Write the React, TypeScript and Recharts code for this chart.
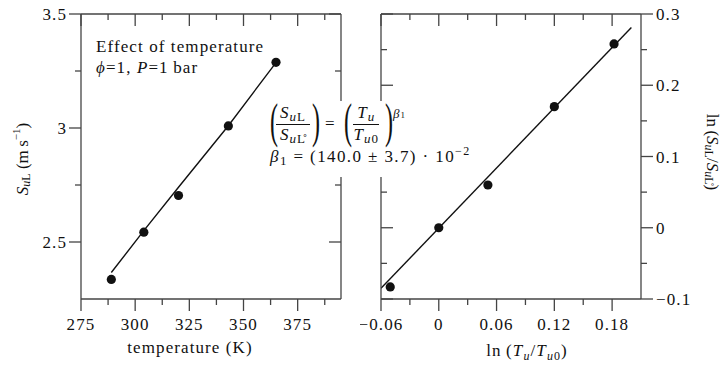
import React from 'react';
import { ComposedChart, Line, Scatter, XAxis, YAxis, Label } from 'recharts';

const SERIF = '"Liberation Serif", serif';
const INK = '#111';
const FRAME = '#444';
const FONT = 17;
const SPACING = 1.1;

// left panel: flame speed against unburnt temperature
const temperatureK = [289, 304, 320, 343, 365];
const flameSpeed = [2.336, 2.543, 2.704, 3.009, 3.288];
const fitTemperatureK = [289, 304, 320, 343, 365];
const fitFlameSpeed = [2.366, 2.55, 2.74, 3.01, 3.287];

// right panel: same data in log form
const lnTempRatio = [-0.0504, 0, 0.051, 0.12, 0.182];
const lnSpeedRatio = [-0.083, 0, 0.06, 0.17, 0.258];
const fitLnTempRatio = [-0.06, 0.2];
const fitLnSpeedRatio = [-0.085, 0.281];

// ticks
const tempMajor = [275, 300, 325, 350, 375];
const tempMinor = [287.5, 312.5, 337.5, 362.5, 387.5];
const speedMajor = [2.5, 3, 3.5];
const speedMinor = [2.75, 3.25];
const lnTMajor = [-0.06, 0, 0.06, 0.12, 0.18];
const lnTMinor = [-0.03, 0.03, 0.09, 0.15];
const lnSMajor = [-0.1, 0, 0.1, 0.2, 0.3];
const lnSMinor = [-0.05, 0.05, 0.15, 0.25];

const leftPoints = temperatureK.map((x, i) => ({ x, y: flameSpeed[i] }));
const leftFit = fitTemperatureK.map((x, i) => ({ x, y: fitFlameSpeed[i] }));
const rightPoints = lnTempRatio.map((x, i) => ({ x, y: lnSpeedRatio[i] }));
const rightFit = fitLnTempRatio.map((x, i) => ({ x, y: fitLnSpeedRatio[i] }));

const fmt = (v: number) => (v < 0 ? '\u2212' + Math.abs(v) : String(v));

type Side = 'top' | 'bottom' | 'left' | 'right';

// draws the tick line itself so majors and minors get different lengths
const tickMark = (side: Side, inward: boolean, majors: number[], labels: boolean) => (props: any) => {
  const { x, y, payload } = props;
  const v = payload.value;
  const major = majors.some((m) => Math.abs(m - v) < 1e-9);
  const len = major ? 12 : 6;
  const out = inward ? -1 : 1;
  let x2 = x;
  let y2 = y;
  if (side === 'bottom') y2 = y + out * len;
  if (side === 'top') y2 = y - out * len;
  if (side === 'left') x2 = x - out * len;
  if (side === 'right') x2 = x + out * len;

  let label = null;
  if (labels && major) {
    const common = { fontFamily: SERIF, fontSize: FONT, fill: INK, style: { letterSpacing: SPACING } };
    if (side === 'bottom') label = <text x={x} y={y + 31} textAnchor="middle" {...common}>{fmt(v)}</text>;
    if (side === 'left') label = <text x={x - 14} y={y + 6} textAnchor="end" {...common}>{fmt(v)}</text>;
    if (side === 'right') label = <text x={x + 15} y={y + 6} textAnchor="start" {...common}>{fmt(v)}</text>;
  }
  return (
    <g>
      <line x1={x} y1={y} x2={x2} y2={y2} stroke={FRAME} strokeWidth={1.3} />
      {label}
    </g>
  );
};

const axisBase = {
  type: 'number' as const,
  interval: 0 as const,
  tickSize: 0,
  tickMargin: 0,
  tickLine: false,
  allowDataOverflow: true,
  axisLine: { stroke: FRAME, strokeWidth: 1.3 },
};

const Dot = (p: any) => <circle cx={p.cx} cy={p.cy} r={4.6} fill={INK} />;

const titleStyle = { fontFamily: SERIF, fontSize: FONT, fill: INK, style: { letterSpacing: SPACING } };
// the vertical titles are not stretched sideways like the rest of the text
const vTitleStyle = { fontFamily: SERIF, fontSize: FONT, fill: INK };

const TempTitle = (props: any) => {
  const { x, y } = props.viewBox;
  return (
    <text x={x + 109} y={y + 54} textAnchor="middle" {...titleStyle}>
      temperature (K)
    </text>
  );
};

const SpeedTitle = () => {
  const cx = 22;
  const cy = 159;
  return (
    <text x={cx} y={cy} transform={`rotate(-90, ${cx}, ${cy})`} textAnchor="middle" dominantBaseline="central" {...vTitleStyle}>
      <tspan fontStyle="italic">S</tspan>
      <tspan dy={4} fontSize={12}>
        <tspan fontStyle="italic">u</tspan>L
      </tspan>
      <tspan dy={-4}>{' (m\u2009s'}</tspan>
      <tspan dy={-6} fontSize={11}>{'\u22121'}</tspan>
      <tspan dy={6}>)</tspan>
    </text>
  );
};

const LnTTitle = (props: any) => {
  const { x, y } = props.viewBox;
  return (
    <text x={x + 146} y={y + 57} textAnchor="middle" {...titleStyle}>
      <tspan>{'ln\u2009('}</tspan>
      <tspan fontStyle="italic">T</tspan>
      <tspan dy={4} fontSize={12} fontStyle="italic">u</tspan>
      <tspan dy={-4}>/</tspan>
      <tspan fontStyle="italic">T</tspan>
      <tspan dy={4} fontSize={12}>
        <tspan fontStyle="italic">u</tspan>0
      </tspan>
      <tspan dy={-4}>)</tspan>
    </text>
  );
};

const LnSTitle = () => {
  const cx = 353;
  const cy = 152;
  return (
    <text x={cx} y={cy} transform={`rotate(90, ${cx}, ${cy})`} textAnchor="middle" dominantBaseline="central" {...vTitleStyle}>
      <tspan>{'ln\u2009('}</tspan>
      <tspan fontStyle="italic">S</tspan>
      <tspan dy={4} fontSize={12}>
        <tspan fontStyle="italic">u</tspan>L
      </tspan>
      <tspan dy={-4}>/</tspan>
      <tspan fontStyle="italic">S</tspan>
      <tspan dy={4} fontSize={12}>
        <tspan fontStyle="italic">u</tspan>
        {'L\u030a'}
      </tspan>
      <tspan dy={-4}>)</tspan>
    </text>
  );
};

// small html helpers for the formula box
const Sub = ({ children }: { children: React.ReactNode }) => (
  <span style={{ fontSize: 13, position: 'relative', top: 3 }}>{children}</span>
);
const Frac = ({ num, den }: { num: React.ReactNode; den: React.ReactNode }) => (
  <span style={{ display: 'inline-flex', flexDirection: 'column', alignItems: 'center', fontSize: FONT, lineHeight: '20px' }}>
    <span style={{ padding: '0 4px', borderBottom: `1px solid ${INK}` }}>{num}</span>
    <span style={{ padding: '0 4px' }}>{den}</span>
  </span>
);
const Paren = ({ ch }: { ch: string }) => (
  <span style={{ display: 'inline-block', width: 8, fontSize: 48, lineHeight: '46px', position: 'relative', top: -3, transform: 'scaleX(0.5)', textAlign: 'center' }}>
    {ch}
  </span>
);
const SuL = ({ ring }: { ring?: boolean }) => (
  <>
    <i>S</i>
    <Sub>
      <i>u</i>
      {ring ? 'L\u030a' : 'L'}
    </Sub>
  </>
);

export default function App() {
  return (
    <div style={{ position: 'absolute', left: 0, top: 0, width: 727, height: 365, background: '#fff', overflow: 'hidden' }}>
      <div style={{ position: 'absolute', left: 0, top: 0 }}>
        <ComposedChart width={360} height={365} margin={{ top: 13, right: 18, bottom: 0, left: 0 }}>
          <XAxis {...axisBase} xAxisId="b" dataKey="x" domain={[275, 395]} ticks={[...tempMajor, ...tempMinor]} height={66} tick={tickMark('bottom', false, tempMajor, true)}>
            <Label content={TempTitle} />
          </XAxis>
          <XAxis {...axisBase} xAxisId="t" orientation="top" dataKey="x" domain={[275, 395]} ticks={[...tempMajor, ...tempMinor]} height={1} tick={tickMark('top', true, tempMajor, false)} />
          <YAxis {...axisBase} yAxisId="l" dataKey="y" domain={[2.25, 3.5]} ticks={[...speedMajor, ...speedMinor]} width={81} tick={tickMark('left', false, speedMajor, true)}>
            <Label content={SpeedTitle} />
          </YAxis>
          <YAxis {...axisBase} yAxisId="r" orientation="right" dataKey="y" domain={[2.25, 3.5]} ticks={[...speedMajor, ...speedMinor]} width={1} tick={tickMark('right', true, speedMajor, false)} />
          <Line xAxisId="b" yAxisId="l" data={leftFit} dataKey="y" type="linear" dot={false} stroke={INK} strokeWidth={1.4} isAnimationActive={false} />
          <Scatter xAxisId="b" yAxisId="l" data={leftPoints} dataKey="y" shape={Dot} isAnimationActive={false} />
        </ComposedChart>
      </div>

      <div style={{ position: 'absolute', left: 360, top: 0 }}>
        <ComposedChart width={367} height={365} margin={{ top: 13, right: 0, bottom: 0, left: 20 }}>
          <XAxis {...axisBase} xAxisId="b" dataKey="x" domain={[-0.06, 0.21]} ticks={[...lnTMajor, ...lnTMinor]} height={66} tick={tickMark('bottom', false, lnTMajor, true)}>
            <Label content={LnTTitle} />
          </XAxis>
          <XAxis {...axisBase} xAxisId="t" orientation="top" dataKey="x" domain={[-0.06, 0.21]} ticks={[...lnTMajor, ...lnTMinor]} height={1} tick={tickMark('top', true, lnTMajor, false)} />
          <YAxis {...axisBase} yAxisId="l" dataKey="y" domain={[-0.1, 0.3]} ticks={[...lnSMajor, ...lnSMinor]} width={1} tick={tickMark('left', true, lnSMajor, false)} />
          <YAxis {...axisBase} yAxisId="r" orientation="right" dataKey="y" domain={[-0.1, 0.3]} ticks={[...lnSMajor, ...lnSMinor]} width={86} tick={tickMark('right', false, lnSMajor, true)}>
            <Label content={LnSTitle} />
          </YAxis>
          <Line xAxisId="b" yAxisId="r" data={rightFit} dataKey="y" type="linear" dot={false} stroke={INK} strokeWidth={1.4} isAnimationActive={false} />
          <Scatter xAxisId="b" yAxisId="r" data={rightPoints} dataKey="y" shape={Dot} isAnimationActive={false} />
        </ComposedChart>
      </div>

      {/* annotation, top left */}
      <div style={{ position: 'absolute', left: 96, top: 36, fontFamily: SERIF, fontSize: FONT, lineHeight: '21px', letterSpacing: SPACING, color: INK, whiteSpace: 'nowrap' }}>
        <div>Effect of temperature</div>
        <div>
          <i>{'\u03d5'}</i>=1, <i>P</i>=1{'\u2009'}bar
        </div>
      </div>

      {/* fitted power law, on a white patch that hides the frames behind it */}
      <div style={{ position: 'absolute', left: 266, top: 101, width: 186, height: 76, background: '#fff', fontFamily: SERIF, fontSize: FONT, color: INK, whiteSpace: 'nowrap' }}>
        <div style={{ position: 'absolute', left: 2, top: 0, height: 46, display: 'flex', alignItems: 'center', letterSpacing: 1 }}>
          <Paren ch="(" />
          <Frac num={<SuL />} den={<SuL ring />} />
          <Paren ch=")" />
          <span style={{ margin: '0 6px 0 7px' }}>=</span>
          <Paren ch="(" />
          <Frac
            num={
              <>
                <i>T</i>
                <Sub>
                  <i>u</i>
                </Sub>
              </>
            }
            den={
              <>
                <i>T</i>
                <Sub>
                  <i>u</i>0
                </Sub>
              </>
            }
          />
          <Paren ch=")" />
          <span style={{ fontSize: 13, alignSelf: 'flex-start', marginTop: 5, marginLeft: 2 }}>
            <i>{'\u03b2'}</i>
            <span style={{ fontSize: 9 }}>1</span>
          </span>
        </div>
        <div style={{ position: 'absolute', left: 4, top: 46, lineHeight: '20px', letterSpacing: 1.4 }}>
          <i>{'\u03b2'}</i>
          <Sub>1</Sub> = (140.0 ± 3.7) · 10
          <span style={{ fontSize: 12, position: 'relative', top: -7 }}>{'\u22122'}</span>
        </div>
      </div>
    </div>
  );
}
